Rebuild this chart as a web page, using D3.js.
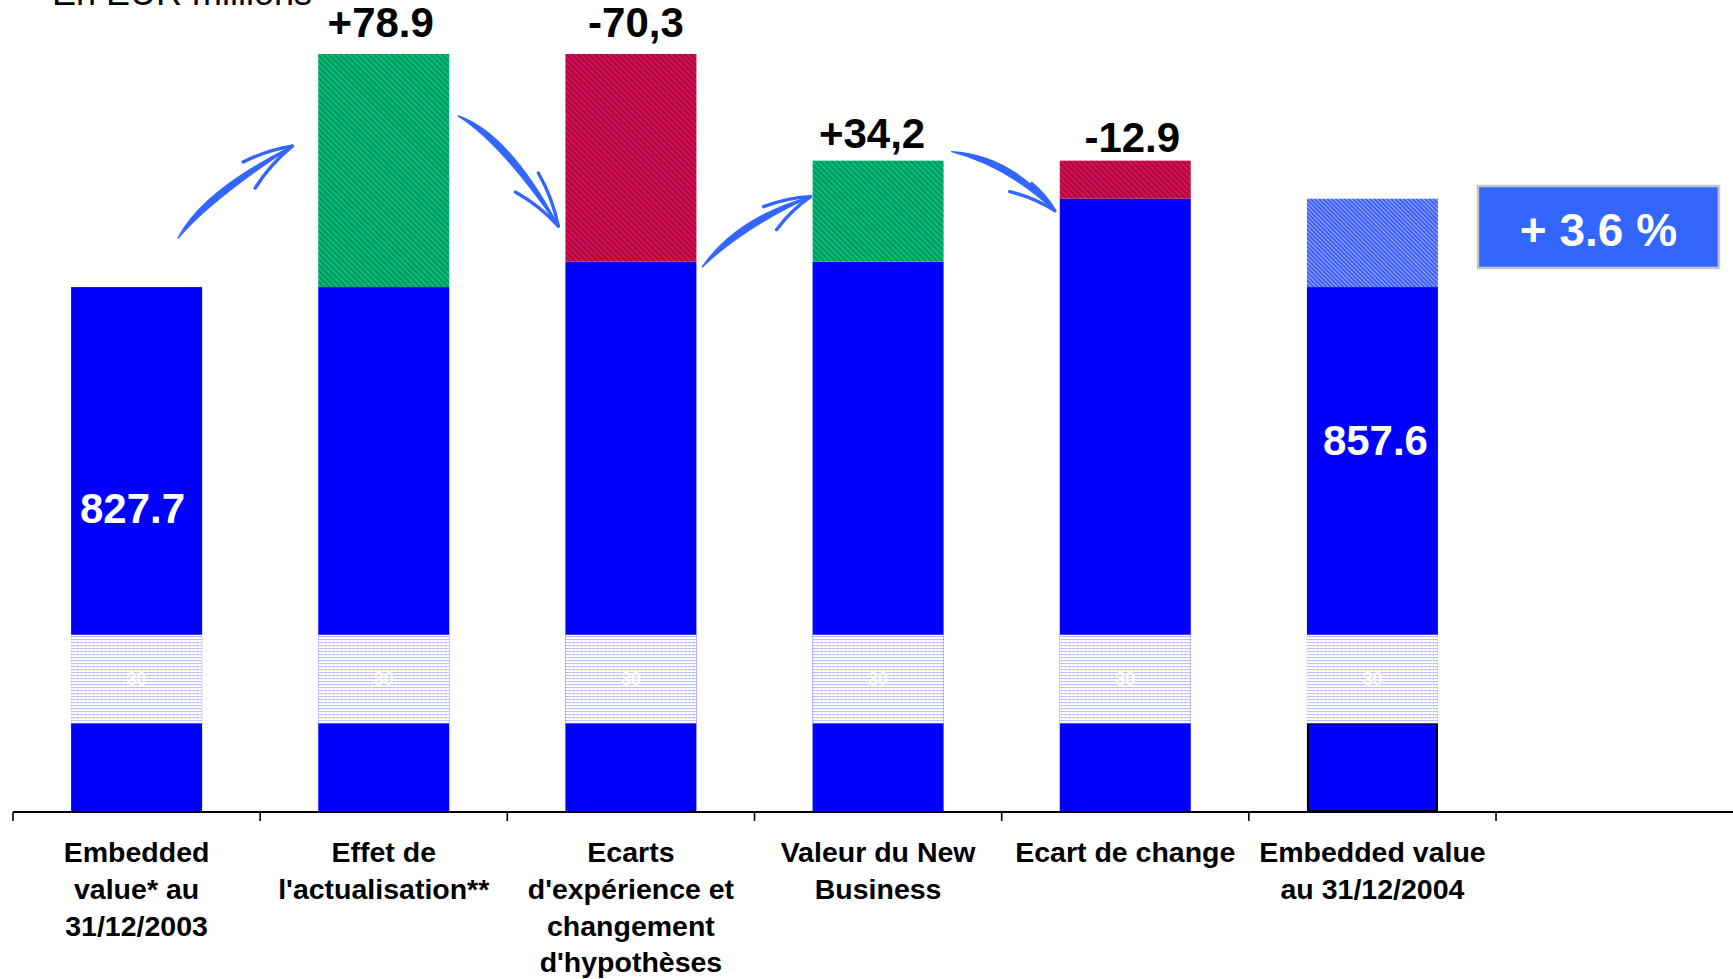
<!DOCTYPE html>
<html><head><meta charset="utf-8">
<script src="https://cdn.jsdelivr.net/npm/d3@7"></script>
<style>html,body{margin:0;padding:0;background:#fff;overflow:hidden}</style>
</head><body>
<svg id="chart" width="1733" height="979"></svg>
<script>
// ---------- DATA ----------
const categoryLines = [
  ["Embedded", "value* au", "31/12/2003"],
  ["Effet de", "l'actualisation**"],
  ["Ecarts", "d'expérience et", "changement", "d'hypothèses"],
  ["Valeur du New", "Business"],
  ["Ecart de change"],
  ["Embedded value", "au 31/12/2004"]
];
const startValue = 827.7;
const changes = [78.9, -70.3, 34.2, -12.9];
const changeLabels = ["+78.9", "-70,3", "+34,2", "-12.9"];
const endValue = 857.6;
const startLabel = "827.7";
const endLabel = "857.6";
const growthLabel = "+ 3.6 %";
const unitLabel = "En EUR millions";
const axisFloor = 650;          // hidden base of the value axis
const breakBand = [680, 710];   // axis-break band drawn in every bar
const breakLabel = "30";

// ---------- BUILD SEGMENTS ----------
const bars = [];
bars.push({ i: 0, base: startValue, lo: null, hi: null, kind: "start" });
let running = startValue;
changes.forEach((c, k) => {
  const prev = running;
  running = +(prev + c).toFixed(1);
  bars.push({ i: k + 1, base: Math.min(prev, running), lo: Math.min(prev, running),
              hi: Math.max(prev, running), kind: c > 0 ? "up" : "down", label: changeLabels[k], prev });
});
bars.push({ i: bars.length, base: startValue, lo: startValue, hi: endValue, kind: "total" });

// ---------- LAYOUT ----------
const W = 1733, H = 979;
const svg = d3.select("#chart");
const FONT = "'Liberation Sans', Arial, Helvetica, sans-serif";
const step = 247.17, x0 = 13;
const x = d3.scaleBand().domain(d3.range(categoryLines.length))
  .range([x0, x0 + categoryLines.length * step]).paddingInner(0.47).paddingOuter(0.235);
const y = d3.scaleLinear().domain([axisFloor, 906.6]).range([812, 54]);
const bw = x.bandwidth();

// ---------- PATTERNS ----------
const defs = svg.append("defs");
function hatch(id, bg, fg, size, sw, angle) {
  const p = defs.append("pattern").attr("id", id).attr("patternUnits", "userSpaceOnUse")
    .attr("width", size).attr("height", size).attr("patternTransform", `rotate(${angle})`);
  p.append("rect").attr("width", size).attr("height", size).attr("fill", bg);
  p.append("line").attr("x1", size / 2).attr("y1", 0).attr("x2", size / 2).attr("y2", size)
    .attr("stroke", fg).attr("stroke-width", sw);
}
hatch("hGreen", "#00c850", "#1030d8", 4, 0.8, -45);
hatch("hRed", "#e8102c", "#3a00b8", 4, 0.9, -45);
hatch("hTotal", "#3a5cff", "#a8b8ff", 3, 0.9, -45);
const bp = defs.append("pattern").attr("id", "hBreak").attr("patternUnits", "userSpaceOnUse")
  .attr("width", 4).attr("height", 3);
bp.append("rect").attr("width", 4).attr("height", 3).attr("fill", "#ffffff");
bp.append("rect").attr("y", 0).attr("width", 4).attr("height", 1).attr("fill", "#c0c0ff");
bp.append("rect").attr("x", 1).attr("y", 1).attr("width", 1).attr("height", 1).attr("fill", "#dcdcff");

const fills = { up: "url(#hGreen)", down: "url(#hRed)", total: "url(#hTotal)" };
const BLUE = "#0000ff";

// ---------- BARS ----------
const g = svg.append("g");
bars.forEach(b => {
  const bx = x(b.i);
  g.append("rect").attr("x", bx).attr("y", y(b.base)).attr("width", bw)
    .attr("height", y(axisFloor) - y(b.base)).attr("fill", BLUE);
  if (b.kind === "total") {
    g.append("rect").attr("x", bx + 1).attr("y", y(breakBand[0])).attr("width", bw - 2)
      .attr("height", y(axisFloor) - y(breakBand[0]) - 1).attr("fill", "none")
      .attr("stroke", "#000").attr("stroke-width", 2);
  }
  g.append("rect").attr("x", bx).attr("y", y(breakBand[1])).attr("width", bw)
    .attr("height", y(breakBand[0]) - y(breakBand[1])).attr("fill", "url(#hBreak)");
  g.append("text").attr("x", bx + bw / 2).attr("y", (y(breakBand[0]) + y(breakBand[1])) / 2 + 6)
    .attr("text-anchor", "middle").attr("font-family", FONT).attr("font-size", 18)
    .attr("font-weight", "bold").attr("fill", "#ffffff").text(breakLabel);
  if (b.hi != null) {
    g.append("rect").attr("x", bx).attr("y", y(b.hi)).attr("width", bw)
      .attr("height", y(b.lo) - y(b.hi)).attr("fill", fills[b.kind]);
  }
});

// change labels above bars
const labelDy = [17, 17, 13, 9];
const labelDx = [-3, 5, -6, 7];
bars.filter(b => b.label).forEach((b, k) => {
  svg.append("text").attr("x", x(b.i) + bw / 2 + labelDx[k]).attr("y", y(b.hi) - labelDy[k])
    .attr("text-anchor", "middle").attr("font-family", FONT).attr("font-size", 42)
    .attr("font-weight", "bold").attr("fill", "#000").text(b.label);
});

// values inside first and last bars
svg.append("text").attr("x", x(0) + bw / 2 - 4).attr("y", y(startValue) + 236)
  .attr("text-anchor", "middle").attr("font-family", FONT).attr("font-size", 42)
  .attr("font-weight", "bold").attr("fill", "#fff").text(startLabel);
const last = bars.length - 1;
svg.append("text").attr("x", x(last) + bw / 2 + 3).attr("y", y(startValue) + 168)
  .attr("text-anchor", "middle").attr("font-family", FONT).attr("font-size", 42)
  .attr("font-weight", "bold").attr("fill", "#fff").text(endLabel);

// ---------- AXIS ----------
const ax = svg.append("g");
ax.append("line").attr("x1", x0).attr("x2", W).attr("y1", y(axisFloor)).attr("y2", y(axisFloor))
  .attr("stroke", "#000").attr("stroke-width", 2);
d3.range(categoryLines.length + 1).forEach(k => {
  const tx = x0 + k * x.step();
  ax.append("line").attr("x1", tx).attr("x2", tx).attr("y1", y(axisFloor)).attr("y2", y(axisFloor) + 9)
    .attr("stroke", "#000").attr("stroke-width", 1.6);
});
categoryLines.forEach((lines, i) => {
  const t = ax.append("text").attr("text-anchor", "middle").attr("font-family", FONT)
    .attr("font-size", 28.5).attr("font-weight", "bold").attr("fill", "#000");
  lines.forEach((ln, j) => {
    t.append("tspan").attr("x", x(i) + bw / 2).attr("y", 862 + j * 36.8).text(ln);
  });
});

// ---------- UNIT LABEL ----------
svg.append("text").attr("x", 52).attr("y", 5).attr("font-family", FONT).attr("font-size", 36)
  .attr("fill", "#000").text(unitLabel);

// ---------- GROWTH BOX ----------
const boxX = x(last) + bw + 40, boxW = 241;
svg.append("rect").attr("x", boxX).attr("y", 186).attr("width", boxW).attr("height", 82)
  .attr("fill", "#3366ff").attr("stroke", "#c4c4c4").attr("stroke-width", 2.5);
svg.append("text").attr("x", boxX + boxW / 2).attr("y", 246).attr("text-anchor", "middle")
  .attr("font-family", FONT).attr("font-size", 46).attr("font-weight", "bold")
  .attr("fill", "#fff").text(growthLabel);

// ---------- ARROWS (annotations between bars) ----------
// offsets relative to (gap centre, y(running total before the step))
const arrowShapes = [
  { s: [-82, -49], c: [-55, -92], t: [32, -141], w: [[-17, -125], [-5, -99]] },
  { s: [-49, 62], c: [-2, 83], t: [51, 172], w: [[8, 138], [31, 119]] },
  { s: [-52, 5], c: [-15, -40], t: [56, -65], w: [[9, -55], [22, -32]] },
  { s: [-50, -9], c: [8, -1], t: [53, 50], w: [[8, 31], [30, 23]] }
];
const AC = "#3366ff";
const refs = [startValue];
{ let r = startValue; changes.forEach(c => { r = +(r + c).toFixed(1); refs.push(r); }); }
arrowShapes.forEach((a, k) => {
  const gx = x0 + (k + 1) * x.step();
  const ry = y(refs[k]);
  const P = p => [gx + p[0], ry + p[1]];
  const s = P(a.s), c = P(a.c), t = P(a.t);
  const dx = t[0] - s[0], dy = t[1] - s[1], L = Math.hypot(dx, dy);
  const n = [-dy / L, dx / L];
  const c1 = [c[0] + n[0] * 7, c[1] + n[1] * 7], c2 = [c[0] - n[0] * 5, c[1] - n[1] * 5];
  const path = d3.path();
  path.moveTo(s[0], s[1]);
  path.quadraticCurveTo(c1[0], c1[1], t[0], t[1]);
  path.quadraticCurveTo(c2[0], c2[1], s[0], s[1]);
  path.closePath();
  svg.append("path").attr("d", path.toString()).attr("fill", AC).attr("stroke", AC)
    .attr("stroke-width", 1.5).attr("stroke-linejoin", "round");
  a.w.forEach(wp => {
    const w = P(wp);
    const m = [(w[0] + t[0]) / 2 + (t[1] - w[1]) * 0.08, (w[1] + t[1]) / 2 - (t[0] - w[0]) * 0.08];
    svg.append("path").attr("d", `M${w[0]},${w[1]} Q${m[0]},${m[1]} ${t[0]},${t[1]}`)
      .attr("fill", "none").attr("stroke", AC).attr("stroke-width", 3.4).attr("stroke-linecap", "round");
  });
});
</script>
</body></html>
